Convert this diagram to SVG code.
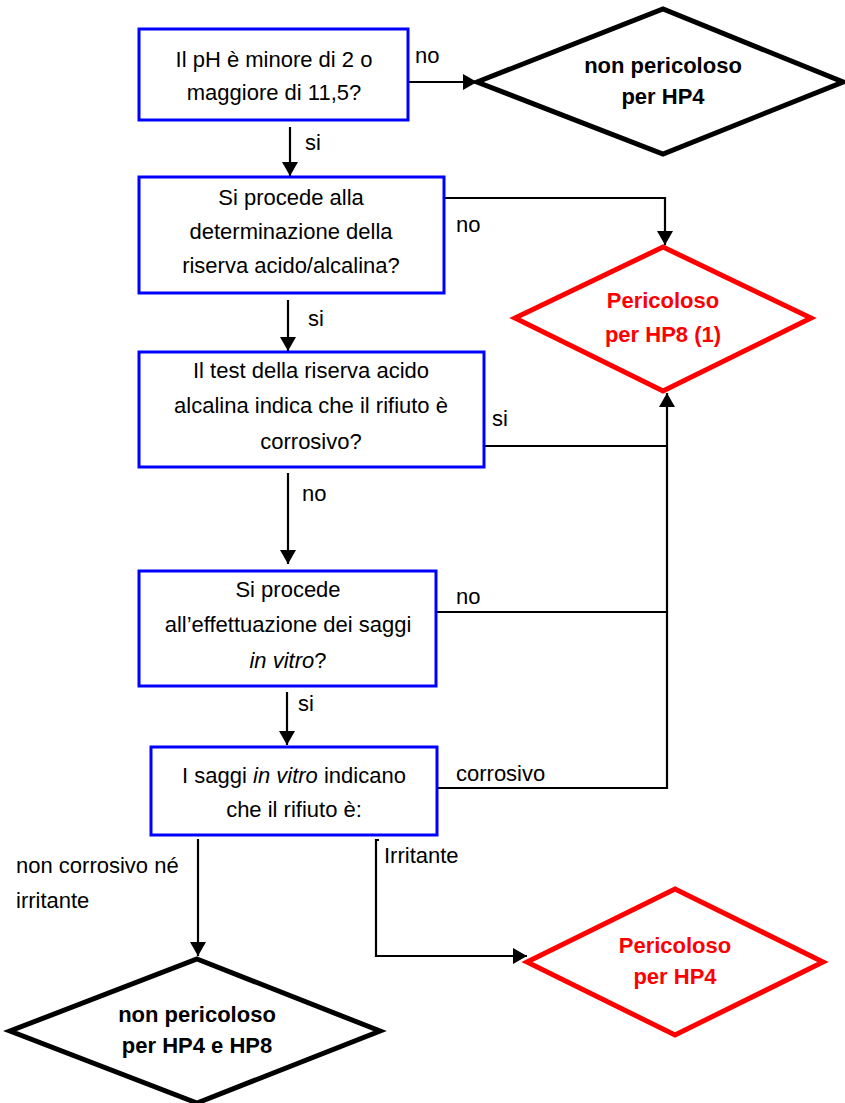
<svg xmlns="http://www.w3.org/2000/svg" width="845" height="1103" viewBox="0 0 845 1103">
<style>
  text { font-family: "Liberation Sans", Arial, sans-serif; font-size: 22px; fill: #000; }
  .c { text-anchor: middle; }
  .b { font-weight: bold; }
  .red { fill: #FF0000; }
  .box { fill: #fff; stroke: #0000FF; stroke-width: 3; }
  .dk { fill: #fff; stroke: #000; stroke-width: 5; stroke-linejoin: miter; }
  .dr { fill: #fff; stroke: #FF0000; stroke-width: 5; stroke-linejoin: miter; }
  .ln { fill: none; stroke: #000; stroke-width: 2.2; }
  .ln2 { fill: none; stroke: #000; stroke-width: 2.2; }
</style>
<defs>
  <marker id="ah" markerUnits="userSpaceOnUse" viewBox="0 0 14 16" refX="14" refY="8" markerWidth="14" markerHeight="16" orient="auto">
    <path d="M0,0 L14,8 L0,16 Z" fill="#000"/>
  </marker>
</defs>
<rect width="845" height="1103" fill="#fff"/>

<g id="connectors">
  <path class="ln" d="M408,82 H477" marker-end="url(#ah)"/>
  <path class="ln" d="M290,127 V176" marker-end="url(#ah)"/>
  <path class="ln" d="M444,198 H665 V245" marker-end="url(#ah)"/>
  <path class="ln" d="M288,300 V351" marker-end="url(#ah)"/>
  <path class="ln" d="M484,446 H667"/>
  <path class="ln" d="M288,473 V564" marker-end="url(#ah)"/>
  <path class="ln" d="M436,612 H667"/>
  <path class="ln" d="M287,692 V745" marker-end="url(#ah)"/>
  <path class="ln" d="M437,788 H667 V393" marker-end="url(#ah)"/>
  <path class="ln" d="M198,839 V956" marker-end="url(#ah)"/>
  <path class="ln" d="M379,840 H376 V956 H527" marker-end="url(#ah)"/>
  <text x="415" y="63">no</text>
  <text x="305" y="150">si</text>
  <text x="456" y="232">no</text>
  <text x="308" y="326">si</text>
  <text x="492" y="426">si</text>
  <text x="302" y="501">no</text>
  <text x="456" y="604">no</text>
  <text x="298" y="711">si</text>
  <text x="456" y="781">corrosivo</text>
  <text x="16" y="873">non corrosivo né</text>
  <text x="16" y="908">irritante</text>
  <text x="384" y="863">Irritante</text>
</g>

<g id="q1">
  <rect class="box" x="139" y="29" width="269" height="91"/>
  <text class="c" x="274" y="67">Il pH è minore di 2 o</text>
  <text class="c" x="274" y="100">maggiore di 11,5?</text>
</g>

<g id="d1">
  <polygon class="dk" points="477,82 663,9 843,82 663,154"/>
  <text class="c b" x="663" y="73">non pericoloso</text>
  <text class="c b" x="663" y="104">per HP4</text>
</g>

<g id="q2">
  <rect class="box" x="139" y="177" width="305" height="116"/>
  <text class="c" x="291" y="205">Si procede alla</text>
  <text class="c" x="291" y="239">determinazione della</text>
  <text class="c" x="291" y="273">riserva acido/alcalina?</text>
</g>

<g id="d2">
  <polygon class="dr" points="663,247 811,318 663,391 515,318"/>
  <text class="c b red" x="663" y="308">Pericoloso</text>
  <text class="c b red" x="663" y="342">per HP8 (1)</text>
</g>

<g id="q3">
  <rect class="box" x="139" y="352" width="345" height="115"/>
  <text class="c" x="311" y="378">Il test della riserva acido</text>
  <text class="c" x="311" y="413">alcalina indica che il rifiuto è</text>
  <text class="c" x="311" y="449">corrosivo?</text>
</g>

<g id="q4">
  <rect class="box" x="139" y="571" width="297" height="115"/>
  <text class="c" x="288" y="597">Si procede</text>
  <text class="c" x="288" y="632">all’effettuazione dei saggi</text>
  <text class="c" x="288" y="668"><tspan font-style="italic">in vitro</tspan>?</text>
</g>

<g id="q5">
  <rect class="box" x="151" y="747" width="286" height="88"/>
  <text class="c" x="294" y="783">I saggi <tspan font-style="italic">in vitro</tspan> indicano</text>
  <text class="c" x="294" y="817">che il rifiuto è:</text>
</g>

<g id="d4">
  <polygon class="dr" points="675,889 823,962 675,1035 527,962"/>
  <text class="c b red" x="675" y="953">Pericoloso</text>
  <text class="c b red" x="675" y="984">per HP4</text>
</g>

<g id="d3">
  <polygon class="dk" points="197,959 380,1031 197,1103 10,1031"/>
  <text class="c b" x="197" y="1022">non pericoloso</text>
  <text class="c b" x="197" y="1053">per HP4 e HP8</text>
</g>
</svg>
